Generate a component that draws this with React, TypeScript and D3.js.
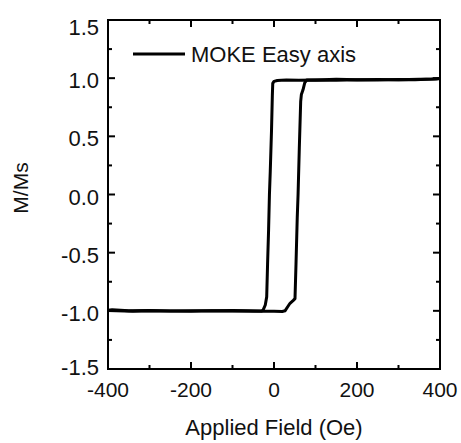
import React from "react";
import * as d3 from "d3";

// Descending branch (field swept from +400 to -400 Oe)
const descField = [400, 380, 340, 300, 250, 200, 150, 100, 60, 30, 18, 8, 0, -3, -4, -6, -9, -11, -13, -15.5, -17.6, -21, -25.8, -30, -60, -100, -150, -200, -250, -300, -350, -390, -400];
const descM = [0.997, 0.992, 0.986, 0.988, 0.984, 0.986, 0.982, 0.985, 0.983, 0.985, 0.982, 0.98, 0.972, 0.955, 0.85, 0.55, 0.2, 0.0, -0.3, -0.6, -0.88, -0.95, -0.99, -1.002, -1.0, -0.998, -1.0, -1.0, -1.002, -0.997, -1.0, -0.99, -0.995];

// Ascending branch (field swept from -400 to +400 Oe)
const ascField = [-400, -380, -340, -300, -250, -200, -150, -100, -50, 0, 20, 26.5, 33, 38.6, 46.5, 50.6, 53, 56, 58, 61, 64.3, 66, 69.9, 74, 78.8, 100, 150, 200, 250, 300, 350, 390, 400];
const ascM = [-0.997, -1.0, -1.003, -1.0, -1.002, -1.003, -1.0, -1.002, -1.003, -1.004, -1.005, -1.0, -0.965, -0.935, -0.91, -0.895, -0.6, -0.2, 0.0, 0.4, 0.8, 0.86, 0.9, 0.96, 0.985, 0.985, 0.99, 0.986, 0.988, 0.987, 0.99, 0.993, 0.997];

const xTicks = [-400, -200, 0, 200, 400];
const xMinor = [-300, -100, 100, 300];
const yTicks = [-1.5, -1.0, -0.5, 0.0, 0.5, 1.0, 1.5];
const yMinor = [-1.25, -0.75, -0.25, 0.25, 0.75, 1.25];

const legendLabel = "MOKE Easy axis";
const xTitle = "Applied Field (Oe)";
const yTitle = "M/Ms";

export default function App() {
  const W = 461, H = 443;
  const left = 108, right = 440, top = 20, bottom = 369;
  const x = d3.scaleLinear().domain([-400, 400]).range([left, right]);
  const y = d3.scaleLinear().domain([-1.5, 1.5]).range([bottom, top]);
  const line = d3.line<[number, number]>().x(d => x(d[0])).y(d => y(d[1]));
  const desc: [number, number][] = descField.map((f, i) => [f, descM[i]]);
  const asc: [number, number][] = ascField.map((f, i) => [f, ascM[i]]);
  const font = "'Liberation Sans', Arial, sans-serif";
  const col = "#111";
  const major = 7, minor = 4;

  return (
    <svg width={W} height={H} style={{ position: "absolute", left: 0, top: 0, background: "#fff" }} fontFamily={font}>
      <rect x={0} y={0} width={W} height={H} fill="#fff" />
      <defs>
        <clipPath id="plot">
          <rect x={left} y={top} width={right - left} height={bottom - top} />
        </clipPath>
      </defs>
      <g clipPath="url(#plot)" fill="none" stroke="#000" strokeWidth={3} strokeLinejoin="round">
        <path d={line(desc) || ""} />
        <path d={line(asc) || ""} />
      </g>
      {/* ticks */}
      <g stroke="#000" strokeWidth={2}>
        {xTicks.map(t => (
          <g key={"xt" + t}>
            <line x1={x(t)} x2={x(t)} y1={bottom} y2={bottom - major} />
            <line x1={x(t)} x2={x(t)} y1={top} y2={top + major} />
          </g>
        ))}
        {xMinor.map(t => (
          <g key={"xm" + t}>
            <line x1={x(t)} x2={x(t)} y1={bottom} y2={bottom - minor} />
            <line x1={x(t)} x2={x(t)} y1={top} y2={top + minor} />
          </g>
        ))}
        {yTicks.map(t => (
          <g key={"yt" + t}>
            <line x1={left} x2={left + major} y1={y(t)} y2={y(t)} />
            <line x1={right} x2={right - major} y1={y(t)} y2={y(t)} />
          </g>
        ))}
        {yMinor.map(t => (
          <g key={"ym" + t}>
            <line x1={left} x2={left + minor} y1={y(t)} y2={y(t)} />
            <line x1={right} x2={right - minor} y1={y(t)} y2={y(t)} />
          </g>
        ))}
      </g>
      <rect x={left} y={top} width={right - left} height={bottom - top} fill="none" stroke="#000" strokeWidth={2} />
      {/* tick labels */}
      <g fill={col} fontSize={22}>
        {yTicks.map(t => {
          const yy = Math.min(Math.max(y(t) + 2.5, 27), 367);
          return (
            <text key={"yl" + t} x={99} y={yy} textAnchor="end" dominantBaseline="central">
              {t.toFixed(1)}
            </text>
          );
        })}
      </g>
      <g fill={col} fontSize={21}>
        {xTicks.map(t => (
          <text key={"xl" + t} x={x(t)} y={397} textAnchor="middle">
            {String(t)}
          </text>
        ))}
      </g>
      {/* titles */}
      <text x={(left + right) / 2} y={435} textAnchor="middle" fontSize={22} fill={col}>
        {xTitle}
      </text>
      <text transform={`translate(28,188) rotate(-90)`} textAnchor="middle" fontSize={21} fill={col}>
        {yTitle}
      </text>
      {/* legend */}
      <line x1={133} x2={185} y1={54} y2={54} stroke="#000" strokeWidth={3} />
      <text x={191} y={62} fontSize={22} fill={col}>
        {legendLabel}
      </text>
    </svg>
  );
}
